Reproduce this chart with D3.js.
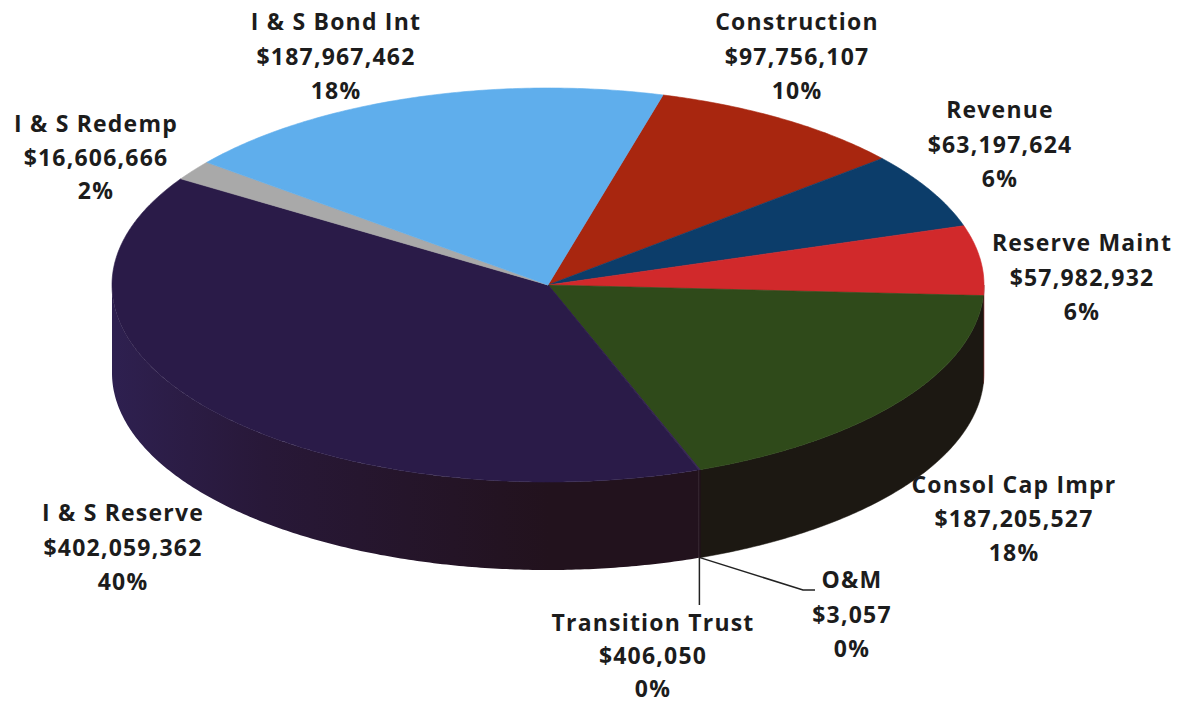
<!DOCTYPE html>
<html>
<head>
<meta charset="utf-8">
<script src="https://cdn.jsdelivr.net/npm/d3@7"></script>
<style>
  html, body { margin: 0; padding: 0; background: #ffffff; }
  svg { display: block; }
  .lbl { font-family: "Open Sans", "DejaVu Sans", sans-serif; font-weight: 700; font-size: 23px; letter-spacing: 1.2px; fill: #1c1c1c; }
</style>
</head>
<body>
<svg id="chart" width="1186" height="704"></svg>
<script>
// Fund balances by account, clockwise from Construction
const categories = ["Construction", "Revenue", "Reserve Maint", "Consol Cap Impr", "O&M",
                    "Transition Trust", "I & S Reserve", "I & S Redemp", "I & S Bond Int"];
const values = [97756107, 63197624, 57982932, 187205527, 3057, 406050, 402059362, 16606666, 187967462];
const amountLabels = ["$97,756,107", "$63,197,624", "$57,982,932", "$187,205,527", "$3,057",
                      "$406,050", "$402,059,362", "$16,606,666", "$187,967,462"];
const percentLabels = ["10%", "6%", "6%", "18%", "0%", "0%", "40%", "2%", "18%"];

// Face and wall colours per slice
const faceColors = ["#a8260f", "#0c3d6a", "#d1292b", "#2f4a1a", "#3a2a55", "#3a2a55", "#2a1b48", "#a9a9a9", "#5faeec"];
const wallColors = ["#6a1508", "#08243f", "#8a1a1c", "#1c1812", "#24131f", "#24131f", "#23121e", "#6e6e6e", "#3a6e96"];

// Pie geometry
const cx = 548, cy = 285, rx = 436, ry = 197, depth = 88;
const startDeg = 15.3;

const svg = d3.select("#chart");
const defs = svg.append("defs");

const xs = d3.scaleLinear().domain([-1, 1]).range([cx - rx, cx + rx]);
const ys = d3.scaleLinear().domain([-1, 1]).range([cy - ry, cy + ry]);

// project an angle (clockwise from 12 o'clock) onto the top ellipse
const px = a => xs(Math.sin(a));
const py = a => ys(-Math.cos(a));

const pie = d3.pie().sort(null).value(d => d)
  .startAngle(startDeg * Math.PI / 180)
  .endAngle(startDeg * Math.PI / 180 + 2 * Math.PI);
const arcs = pie(values).map((d, i) => Object.assign(d, { i }));

const line = d3.line();
function arcPoints(a0, a1, dy) {
  const n = Math.max(2, Math.ceil(Math.abs(a1 - a0) / 0.01));
  return d3.range(n + 1).map(k => {
    const a = a0 + (a1 - a0) * k / n;
    return [px(a), py(a) + dy];
  });
}

// purple wall shading: lighter at the far left, darker toward the front
const grad = defs.append("linearGradient").attr("id", "wallPurple")
  .attr("gradientUnits", "userSpaceOnUse")
  .attr("x1", cx - rx).attr("y1", 0).attr("x2", cx).attr("y2", 0);
grad.append("stop").attr("offset", 0).attr("stop-color", "#2e2050");
grad.append("stop").attr("offset", 0.35).attr("stop-color", "#281838");
grad.append("stop").attr("offset", 1).attr("stop-color", "#22121d");

// outer walls: only the front half (90° .. 270°) is visible
const lo = Math.PI / 2, hi = 3 * Math.PI / 2;
const wallG = svg.append("g");
arcs.forEach(d => {
  [0, 2 * Math.PI].forEach(shift => {
    const a0 = Math.max(d.startAngle - shift, lo);
    const a1 = Math.min(d.endAngle - shift, hi);
    if (a1 <= a0) return;
    const top = arcPoints(a0, a1, 0);
    const bot = arcPoints(a1, a0, depth);
    wallG.append("path")
      .attr("d", line(top.concat(bot)) + "Z")
      .attr("fill", d.i === 6 ? "url(#wallPurple)" : wallColors[d.i])
      .attr("stroke", d.i === 6 ? "none" : wallColors[d.i])
      .attr("stroke-width", 0.5);
  });
});

// top faces
const topG = svg.append("g");
arcs.forEach(d => {
  const pts = [[cx, cy]].concat(arcPoints(d.startAngle, d.endAngle, 0));
  topG.append("path")
    .attr("d", line(pts) + "Z")
    .attr("fill", faceColors[d.i])
    .attr("stroke", faceColors[d.i])
    .attr("stroke-width", 0.6)
    .attr("stroke-linejoin", "round");
});

// labels (centre x, first baseline y, line gap)
const labelPos = {
  "Construction":     [797, 30, 34.5],
  "Revenue":          [1000, 118, 34.5],
  "Reserve Maint":    [1082, 251, 34.5],
  "Consol Cap Impr":  [1014, 493, 34],
  "O&M":              [852, 588, 34.5],
  "Transition Trust": [653, 631, 33],
  "I & S Reserve":    [123, 521, 34.5],
  "I & S Redemp":     [96, 132, 33.5],
  "I & S Bond Int":   [336, 30, 34.5]
};

const labG = svg.append("g");
arcs.forEach(d => {
  const name = categories[d.i];
  const [lx, ly, gap] = labelPos[name];
  const t = labG.append("text").attr("class", "lbl").attr("text-anchor", "middle");
  [name, amountLabels[d.i], percentLabels[d.i]].forEach((s, k) => {
    t.append("tspan").attr("x", lx).attr("y", ly + k * gap).text(s);
  });
});

// leader lines for the two tiny slices, from the bottom rim at their mid angle
const mid = d => (d.startAngle + d.endAngle) / 2;
const om = arcs[4], tt = arcs[5];
const leader = d3.line();
labG.append("path")
  .attr("d", leader([[px(mid(tt)), py(mid(tt)) + depth], [px(mid(tt)), 605]]))
  .attr("fill", "none").attr("stroke", "#222").attr("stroke-width", 1.5);
labG.append("path")
  .attr("d", leader([[px(mid(om)), py(mid(om)) + depth], [803, 590], [815, 590]]))
  .attr("fill", "none").attr("stroke", "#222").attr("stroke-width", 1.5);
</script>
</body>
</html>
